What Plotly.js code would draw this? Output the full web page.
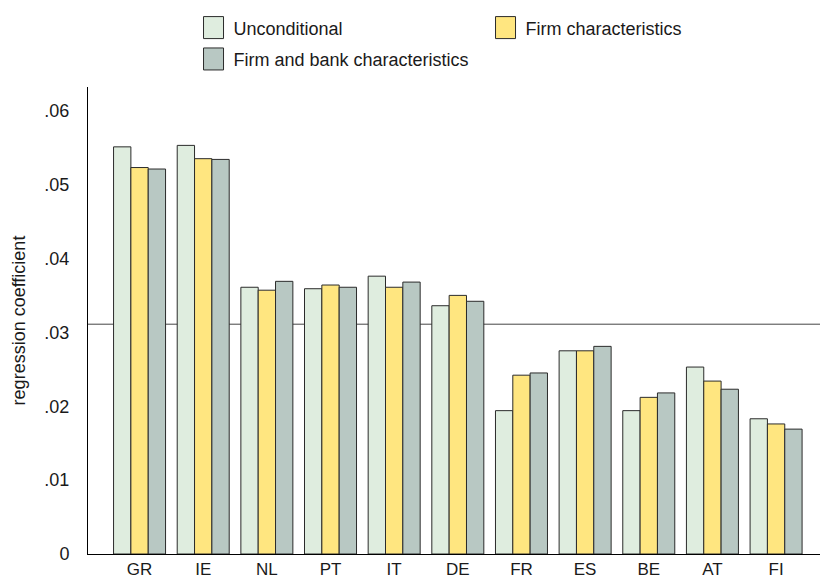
<!DOCTYPE html>
<html>
<head>
<meta charset="utf-8">
<script src="https://cdn.plot.ly/plotly-3.0.1.min.js"></script>
<style>
  html, body { margin: 0; padding: 0; background: #fff; }
  #chart { width: 820px; height: 581px; }
</style>
</head>
<body>
<div id="chart"></div>
<script>
const countries = ["GR", "IE", "NL", "PT", "IT", "DE", "FR", "ES", "BE", "AT", "FI"];
const unconditional = [0.0551, 0.0553, 0.0361, 0.0359, 0.0376, 0.0336, 0.0194, 0.0275, 0.0194, 0.0253, 0.0183];
const firmChars = [0.0523, 0.0535, 0.0357, 0.0364, 0.0361, 0.0350, 0.0242, 0.0275, 0.0212, 0.0234, 0.0176];
const firmBankChars = [0.0521, 0.0534, 0.0369, 0.0361, 0.0368, 0.0342, 0.0245, 0.0281, 0.0218, 0.0223, 0.0169];
const seriesNames = ["Unconditional", "Firm characteristics", "Firm and bank characteristics"];
const referenceLine = 0.0311;
const yTickVals = [0, 0.01, 0.02, 0.03, 0.04, 0.05, 0.06];
const yTickText = ["0", ".01", ".02", ".03", ".04", ".05", ".06"];

const FONT = '"Liberation Sans", Arial, Helvetica, sans-serif';
const colors = ["#dfeddf", "#ffe680", "#b8c8c3"];
const lineColor = "#2b2b2b";
const txt = "#1a1a1a";

const traces = [unconditional, firmChars, firmBankChars].map((vals, i) => ({
  type: "bar",
  x: countries,
  y: vals,
  name: seriesNames[i],
  marker: { color: colors[i], line: { color: lineColor, width: 1 } },
  legend: i === 2 ? "legend2" : "legend",
  hoverinfo: "x+y+name"
}));

const layout = {
  width: 820,
  height: 581,
  margin: { l: 88, r: 0, t: 87, b: 27 },
  paper_bgcolor: "#ffffff",
  plot_bgcolor: "#ffffff",
  font: { family: FONT, size: 18, color: txt },
  barmode: "group",
  bargap: 0.183,
  bargroupgap: 0,
  showlegend: true,
  legend: {
    orientation: "h",
    xref: "container", yref: "container",
    x: 0.236, y: 0.952, xanchor: "left", yanchor: "middle",
    entrywidth: 247, entrywidthmode: "pixels",
    font: { family: FONT, size: 18, color: txt },
    bgcolor: "rgba(0,0,0,0)"
  },
  legend2: {
    orientation: "h",
    xref: "container", yref: "container",
    x: 0.236, y: 0.898, xanchor: "left", yanchor: "middle",
    font: { family: FONT, size: 18, color: txt },
    bgcolor: "rgba(0,0,0,0)"
  },
  xaxis: {
    type: "category",
    range: [-0.81, 10.69],
    showline: true, linecolor: "#000", linewidth: 1,
    showgrid: false, zeroline: false,
    ticks: "",
    ticklabelstandoff: 0,
    tickfont: { family: FONT, size: 17, color: txt },
    fixedrange: true
  },
  yaxis: {
    range: [0, 0.0632],
    tickvals: yTickVals,
    ticktext: yTickText,
    showline: true, linecolor: "#000", linewidth: 1,
    showgrid: false, zeroline: false,
    ticks: "",
    ticklabelstandoff: 14,
    tickfont: { family: FONT, size: 18, color: txt },
    title: { text: "regression coefficient", font: { family: FONT, size: 18, color: txt }, standoff: 14 },
    fixedrange: true
  },
  shapes: [{
    type: "line", layer: "below",
    xref: "paper", x0: 0, x1: 1,
    yref: "y", y0: referenceLine, y1: referenceLine,
    line: { color: "#444", width: 1 }
  }]
};

Plotly.newPlot("chart", traces, layout, { staticPlot: true, displayModeBar: false }).then(gd => {
  // enlarge the legend swatches to the reference's size
  gd.querySelectorAll(".legendpoints path").forEach(p => {
    const d = p.getAttribute("d");
    if (d && /^M6,6H-6V-6H6Z$/.test(d.replace(/\s/g, ""))) {
      p.setAttribute("d", "M10,11H-10V-11H10Z");
    }
  });
});
</script>
</body>
</html>
